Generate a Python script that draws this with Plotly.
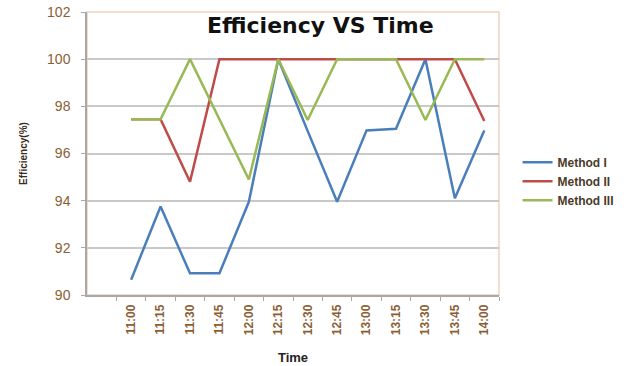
import plotly.graph_objects as go

times = ["11:00", "11:15", "11:30", "11:45", "12:00", "12:15", "12:30",
         "12:45", "13:00", "13:15", "13:30", "13:45", "14:00"]
method_1 = [90.65, 93.75, 90.92, 90.92, 93.95, 100.0, 96.95,
            93.95, 96.98, 97.05, 100.0, 94.1, 96.98]
method_2 = [97.45, 97.45, 94.8, 100.0, 100.0, 100.0, 100.0,
            100.0, 100.0, 100.0, 100.0, 100.0, 97.38]
method_3 = [97.45, 97.45, 100.0, 97.45, 94.9, 100.0, 97.42,
            100.0, 100.0, 100.0, 97.42, 100.0, 100.0]
series_names = ["Method I", "Method II", "Method III"]
colors = ["#4A7EBB", "#BE4B48", "#98B954"]
y_ticks = [90, 92, 94, 96, 98, 100, 102]

fig = go.Figure()
for name, vals, col in zip(series_names, [method_1, method_2, method_3], colors):
    fig.add_trace(go.Scatter(x=times, y=vals, mode="lines", name="<b>" + name + "</b>",
                             line=dict(color=col, width=2.5)))

tick_color = "#8B5E34"
fig.update_layout(
    width=641, height=366,
    margin=dict(l=87, r=142, t=12, b=71),
    paper_bgcolor="white", plot_bgcolor="white",
    font=dict(family="Liberation Sans, Arial", color=tick_color),
    showlegend=True,
    legend=dict(x=1.045, y=0.52, xanchor="left", yanchor="top",
                font=dict(size=12, color="#4a3a2a", family="Liberation Sans, Arial"),
                tracegroupgap=0, itemwidth=30, bgcolor="rgba(0,0,0,0)"),
    xaxis=dict(type="category", categoryorder="array", categoryarray=times,
               range=[-1.5, 12.5], showgrid=False, showline=True, automargin=False,
               linecolor="#a8a8a8", linewidth=1.5, ticks="outside",
               tickson="boundaries", ticklen=4, tickcolor="#a8a8a8",
               tickangle=-90, ticklabelstandoff=3,
               tickfont=dict(size=12, color=tick_color,
                             family="Liberation Sans, Arial"),
               title=dict(text="<b>Time</b>", font=dict(size=13, color="#222"),
                          standoff=19)),
    yaxis=dict(range=[90, 102], tickvals=y_ticks, showgrid=True, automargin=False,
               gridcolor="#c9c9c9", gridwidth=1.5, showline=True,
               linecolor="#a8a8a8", linewidth=1.5, ticks="outside",
               ticklen=4, tickcolor="#a8a8a8", zeroline=False,
               ticklabelstandoff=8, ticklabeloverflow="allow",
               tickfont=dict(size=14, color=tick_color),
               title=dict(text="<b>Efficiency(%)</b>",
                          font=dict(size=10, color="#3a2a1a"), standoff=18)),
    shapes=[dict(type="rect", xref="paper", yref="paper", x0=0, x1=1, y0=0, y1=1,
                 line=dict(color="#F2D4B8", width=1.5), layer="below")],
    annotations=[dict(text="<b>Efficiency VS Time</b>", xref="paper", yref="paper",
                      x=0.566, y=0.952, xanchor="center", yanchor="middle",
                      showarrow=False,
                      font=dict(size=22, color="#111", family="DejaVu Sans"))],
)
fig.update_yaxes(tickprefix="<b>", ticksuffix="</b>")
fig.update_xaxes(tickprefix="<b>", ticksuffix="</b>")

fig.write_html("out.html", config={"displayModeBar": False},
               post_script="document.body.style.margin='0';document.body.style.overflow='hidden';")
